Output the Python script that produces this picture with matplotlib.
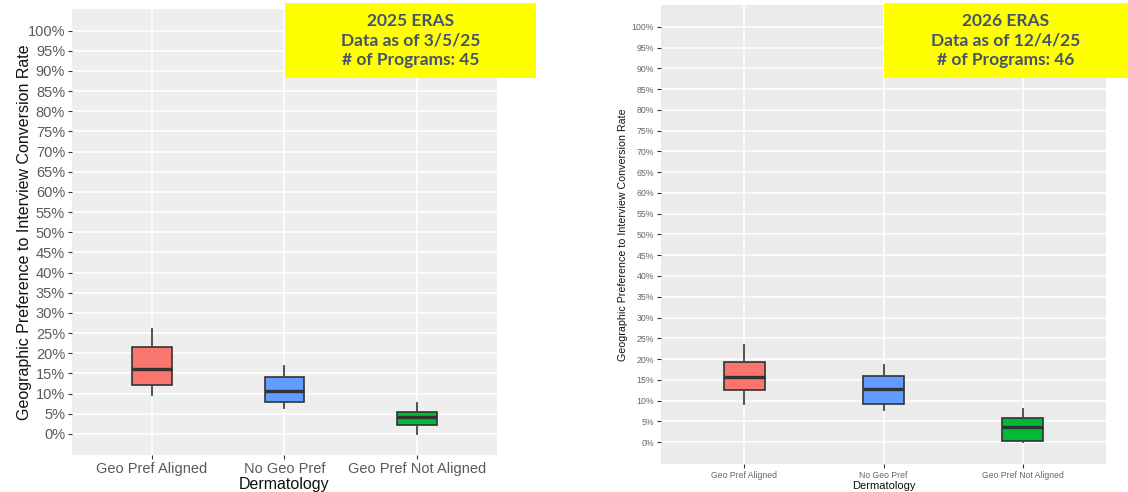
import matplotlib
matplotlib.use("Agg")
import matplotlib.pyplot as plt
import numpy as np

plt.rcParams['font.family'] = ['Liberation Sans', 'DejaVu Sans']

categories = ["Geo Pref Aligned", "No Geo Pref", "Geo Pref Not Aligned"]
box_colors = ["#F8766D", "#619CFF", "#00BA38"]

# 2025 ERAS (percent)
eras2025_low = [9.7, 6.4, 0.0]
eras2025_q1 = [12.2, 8.0, 2.1]
eras2025_med = [16.1, 10.7, 4.1]
eras2025_q3 = [21.6, 14.0, 5.5]
eras2025_high = [26.1, 16.9, 7.6]

# 2026 ERAS (percent)
eras2026_low = [9.2, 7.8, 0.0]
eras2026_q1 = [12.6, 9.1, 0.3]
eras2026_med = [15.6, 12.7, 3.7]
eras2026_q3 = [19.2, 15.9, 5.8]
eras2026_high = [23.3, 18.6, 8.0]

yticks = list(range(0, 101, 5))
ytick_labels = [f"{t}%" for t in yticks]

titles = [["2025 ERAS", "Data as of 3/5/25", "# of Programs: 45"],
          ["2026 ERAS", "Data as of 12/4/25", "# of Programs: 46"]]


def draw_panel(ax, low, q1, med, q3, high, tick_fs, xtick_fs, ylab_fs, xlab_fs,
               tick_color, bg, ylabpad):
    stats = []
    for i, c in enumerate(categories):
        stats.append(dict(label=c, whislo=low[i], q1=q1[i], med=med[i],
                          q3=q3[i], whishi=high[i], fliers=[]))
    pos = np.arange(1, len(categories) + 1)
    bp = ax.bxp(stats, positions=pos, widths=0.3, patch_artist=True,
                showcaps=False, showfliers=False,
                boxprops=dict(edgecolor="#333333", linewidth=1.2),
                medianprops=dict(color="#333333", linewidth=2.4),
                whiskerprops=dict(color="#444444", linewidth=1.3))
    for patch, col in zip(bp['boxes'], box_colors):
        patch.set_facecolor(col)
    ax.set_facecolor(bg)
    ax.set_xlim(0.4, 3.6)
    ax.set_ylim(-5.25, 105.25)
    ax.set_yticks(yticks)
    ax.set_yticklabels(ytick_labels)
    ax.set_xticks(pos)
    ax.set_xticklabels(categories)
    ax.grid(True, color="white", linewidth=1.1)
    ax.set_axisbelow(True)
    for s in ax.spines.values():
        s.set_visible(False)
    ax.tick_params(length=3, color="#333333", labelcolor=tick_color, pad=2)
    ax.tick_params(axis="y", labelsize=tick_fs)
    ax.tick_params(axis="x", labelsize=xtick_fs)
    ax.set_ylabel("Geographic Preference to Interview Conversion Rate",
                  fontsize=ylab_fs, color="#111111", labelpad=ylabpad)
    ax.set_xlabel("Dermatology", fontsize=xlab_fs, color="#111111", labelpad=1)


fig = plt.figure(figsize=(11.28, 4.92), dpi=100)

ax1 = fig.add_axes([0.0638, 0.075, 0.3768, 0.906])
draw_panel(ax1, eras2025_low, eras2025_q1, eras2025_med, eras2025_q3,
           eras2025_high, 10.5, 10.5, 11.5, 11.5, "#5A5A5A", "#EEEEEE", -3)

ax2 = fig.add_axes([0.586, 0.057, 0.3945, 0.933])
draw_panel(ax2, eras2026_low, eras2026_q1, eras2026_med, eras2026_q3,
           eras2026_high, 6.3, 6.2, 7.7, 8, "#666666", "#EBEBEB", 3)

# yellow info boxes
for (x0, x1), lines in zip([(285, 536), (884, 1128)], titles):
    bx = fig.add_axes([x0 / 1128, 1 - 78 / 492, (x1 - x0) / 1128, 75 / 492])
    bx.set_facecolor("#FFFF00")
    bx.set_xticks([])
    bx.set_yticks([])
    for s in bx.spines.values():
        s.set_visible(False)
    bx.text(0.5, 0.5, "\n".join(lines), ha="center", va="center",
            fontsize=12.5, fontweight="bold", color="#44546A",
            family=["Lato", "DejaVu Sans"], linespacing=1.3,
            transform=bx.transAxes)

fig.savefig("out.png", dpi=100)
